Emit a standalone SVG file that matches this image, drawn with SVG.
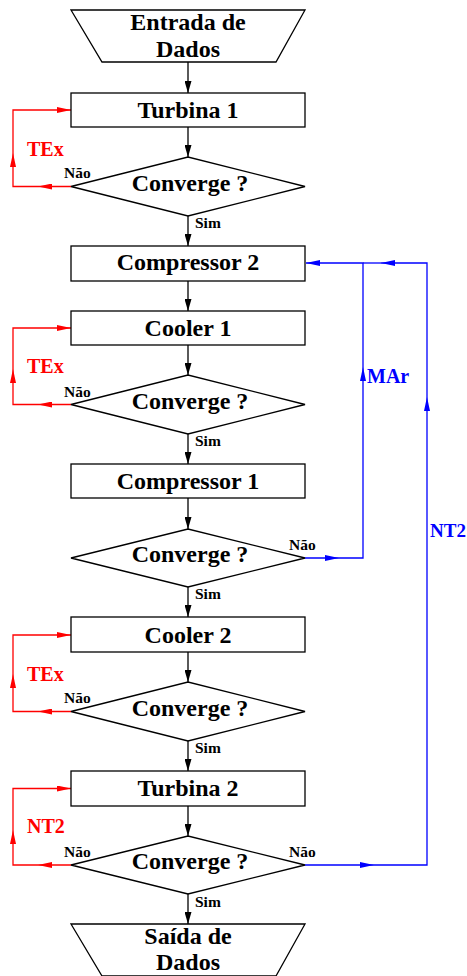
<svg xmlns="http://www.w3.org/2000/svg" width="467" height="976" viewBox="0 0 467 976">
<style>
.sh{fill:#fff;stroke:#000;stroke-width:1.3}
.t{font-family:"Liberation Serif","Times New Roman",serif;font-weight:bold;font-size:24px;fill:#000;text-anchor:middle}
.s{font-family:"Liberation Serif","Times New Roman",serif;font-weight:bold;font-size:15.5px;fill:#000}
.r{font-family:"Liberation Serif","Times New Roman",serif;font-weight:bold;font-size:20px;fill:#f00}
.b{font-family:"Liberation Serif","Times New Roman",serif;font-weight:bold;font-size:20px;fill:#00f}
.ck{fill:none;stroke:#000;stroke-width:1.3}
.cr{fill:none;stroke:#f00;stroke-width:1.3}
.cb{fill:none;stroke:#00f;stroke-width:1.3}
</style>
<defs>
<marker id="ak" viewBox="0 0 12 7" refX="12" refY="3.5" markerWidth="12" markerHeight="7" markerUnits="userSpaceOnUse" orient="auto"><path d="M0,0 L12,3.5 L0,7 z" fill="#000"/></marker>
<marker id="ar" viewBox="0 0 14 6" refX="14" refY="3" markerWidth="14" markerHeight="6" markerUnits="userSpaceOnUse" orient="auto"><path d="M0,0 L14,3 L0,6 z" fill="#f00"/></marker>
<marker id="ab" viewBox="0 0 14 6" refX="14" refY="3" markerWidth="14" markerHeight="6" markerUnits="userSpaceOnUse" orient="auto"><path d="M0,0 L14,3 L0,6 z" fill="#00f"/></marker>
</defs>
<rect width="467" height="976" fill="#fff"/>
<g id="connectors">
<g marker-end="url(#ak)" class="ck">
<path d="M188,62 V93"/><path d="M188,127 V157"/><path d="M188,216 V246"/><path d="M188,281 V311"/>
<path d="M188,345 V375"/><path d="M188,434 V464"/><path d="M188,498 V529"/><path d="M188,587 V617"/>
<path d="M188,652 V682"/><path d="M188,741 V771"/><path d="M188,806 V836"/><path d="M188,894 V924"/>
</g>
<g class="cr" marker-end="url(#ar)">
<path d="M71,186.5 H38"/><path d="M38,186.5 H13 V153"/><path d="M13,153 V110 H71"/>
<path d="M71,404.5 H38"/><path d="M38,404.5 H13 V369"/><path d="M13,369 V328 H71"/>
<path d="M71,711.5 H38"/><path d="M38,711.5 H13 V674"/><path d="M13,674 V635 H71"/>
<path d="M71,865 H38"/><path d="M38,865 H13 V830"/><path d="M13,830 V788.5 H71"/>
</g>
<g class="cb" marker-end="url(#ab)">
<path d="M305,558 H339"/><path d="M339,558 H363 V367"/><path d="M363,367 V263 H306"/>
<path d="M305,865 H374"/><path d="M374,865 H427 V397"/><path d="M427,397 V263 H381"/>
</g>
<path class="cb" d="M381,263 H363"/>
</g>
<g id="entrada"><polygon class="sh" points="71,10 305,10 276,62 102,62"/><text class="t" x="188" y="30">Entrada de</text><text class="t" x="188" y="57">Dados</text></g>
<g id="turbina1"><rect class="sh" x="71" y="93" width="234" height="34"/><text class="t" x="188" y="118">Turbina 1</text></g>
<g id="conv1"><polygon class="sh" points="71,186.5 188,157 305,186.5 188,216"/><text class="t" x="190" y="191">Converge ?</text></g>
<g id="compressor2"><rect class="sh" x="71" y="246" width="234" height="35"/><text class="t" x="188" y="270">Compressor 2</text></g>
<g id="cooler1"><rect class="sh" x="71" y="311" width="234" height="34"/><text class="t" x="188" y="336">Cooler 1</text></g>
<g id="conv2"><polygon class="sh" points="71,404.5 188,375 305,404.5 188,434"/><text class="t" x="190" y="408.5">Converge ?</text></g>
<g id="compressor1"><rect class="sh" x="71" y="464" width="234" height="34"/><text class="t" x="188" y="488.5">Compressor 1</text></g>
<g id="conv3"><polygon class="sh" points="71,558 188,529 305,558 188,587"/><text class="t" x="190" y="561.5">Converge ?</text></g>
<g id="cooler2"><rect class="sh" x="71" y="617" width="234" height="35"/><text class="t" x="188" y="643">Cooler 2</text></g>
<g id="conv4"><polygon class="sh" points="71,711.5 188,682 305,711.5 188,741"/><text class="t" x="190" y="716">Converge ?</text></g>
<g id="turbina2"><rect class="sh" x="71" y="771" width="234" height="35"/><text class="t" x="188" y="796">Turbina 2</text></g>
<g id="conv5"><polygon class="sh" points="71,865 188,836 305,865 188,894"/><text class="t" x="190" y="868.5">Converge ?</text></g>
<g id="saida"><polygon class="sh" points="71,924 305,924 276,976 102,976"/><text class="t" x="188" y="944">Saída de</text><text class="t" x="188" y="970">Dados</text></g>
<g id="labels">
<text class="s" x="64" y="177.5">Não</text><text class="s" x="64" y="397">Não</text><text class="s" x="64" y="703">Não</text><text class="s" x="64" y="857">Não</text>
<text class="s" x="289" y="550">Não</text><text class="s" x="289" y="857">Não</text>
<text class="s" x="195" y="228">Sim</text><text class="s" x="195" y="446">Sim</text><text class="s" x="195" y="599">Sim</text><text class="s" x="195" y="753">Sim</text><text class="s" x="195" y="907">Sim</text>
<text class="r" x="27" y="156">TEx</text><text class="r" x="27" y="373">TEx</text><text class="r" x="27" y="681">TEx</text><text class="r" x="27" y="833">NT2</text>
<text class="b" x="367" y="383">MAr</text><text class="b" x="430" y="537" style="font-size:19px">NT2</text>
</g>
</svg>
